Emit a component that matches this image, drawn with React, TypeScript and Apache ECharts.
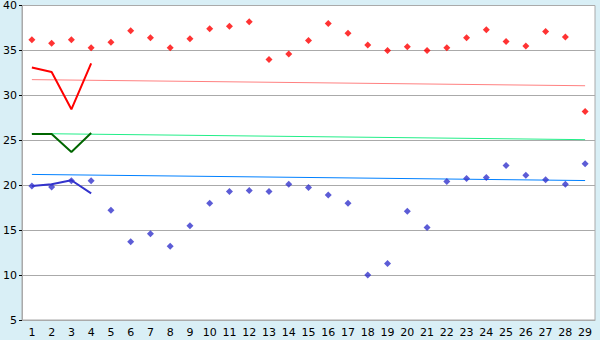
import React, { useEffect, useRef } from "react";
import * as echarts from "echarts";

const categories = Array.from({ length: 29 }, (_, i) => String(i + 1));

const redPoints = [
  36.2, 35.8, 36.2, 35.3, 35.9, 37.2, 36.4, 35.3, 36.3, 37.4,
  37.7, 38.2, 34.0, 34.6, 36.1, 38.0, 36.9, 35.6, 35.0, 35.4,
  35.0, 35.3, 36.4, 37.3, 36.0, 35.5, 37.1, 36.5, 28.2,
];

const bluePoints = [
  19.9, 19.8, 20.5, 20.5, 17.2, 13.7, 14.6, 13.2, 15.5, 18.0,
  19.3, 19.4, 19.3, 20.1, 19.75, 18.9, 18.0, 10.0, 11.3, 17.1,
  15.3, 20.4, 20.75, 20.85, 22.2, 21.1, 20.6, 20.1, 22.4,
];

const redLine = [33.1, 32.6, 28.45, 33.55];
const greenLine = [25.7, 25.7, 23.7, 25.8];
const blueLine = [19.9, 20.1, 20.55, 19.1];

// trend lines: start (category 1) and end (category 29)
const redTrend = [31.75, 31.07];
const greenTrend = [25.75, 25.07];
const blueTrend = [21.2, 20.52];

const yTicks = { min: 5, max: 40, interval: 5 };

function trendData(pair: number[]) {
  return categories.map((_, i) =>
    i === 0 ? pair[0] : i === categories.length - 1 ? pair[1] : null
  );
}

export default function App() {
  const ref = useRef<HTMLDivElement>(null);
  useEffect(() => {
    document.body.style.margin = "0";
    const chart = echarts.init(ref.current!, null, { renderer: "svg" });
    const font = { fontFamily: "DejaVu Sans", fontSize: 11, color: "#000" };
    chart.setOption({
      animation: false,
      backgroundColor: "#d9eff6",
      grid: {
        left: 20,
        right: 5,
        top: 5,
        bottom: 20,
        show: true,
        backgroundColor: "#ffffff",
        borderColor: "#aaaaaa",
        borderWidth: 1,
      },
      xAxis: {
        type: "category",
        data: categories,
        boundaryGap: true,
        axisLine: { lineStyle: { color: "#aaaaaa" } },
        axisTick: { alignWithLabel: true, length: 5, lineStyle: { color: "#000" } },
        axisLabel: { ...font, margin: 7, interval: 0 },
        splitLine: { show: false },
      },
      yAxis: {
        type: "value",
        min: yTicks.min,
        max: yTicks.max,
        interval: yTicks.interval,
        axisLine: { show: true, lineStyle: { color: "#aaaaaa" } },
        axisTick: { show: true, length: 3, lineStyle: { color: "#000" } },
        axisLabel: { ...font, margin: 5 },
        splitLine: { lineStyle: { color: "#aaaaaa" } },
      },
      series: [
        {
          type: "line",
          data: trendData(redTrend),
          connectNulls: true,
          symbol: "none",
          lineStyle: { color: "#ff8080", width: 1 },
          z: 2,
        },
        {
          type: "line",
          data: trendData(greenTrend),
          connectNulls: true,
          symbol: "none",
          lineStyle: { color: "#22ee88", width: 1 },
          z: 2,
        },
        {
          type: "line",
          data: trendData(blueTrend),
          connectNulls: true,
          symbol: "none",
          lineStyle: { color: "#0080ff", width: 1 },
          z: 2,
        },
        {
          type: "line",
          data: redLine,
          symbol: "none",
          lineStyle: { color: "#ff0000", width: 2 },
          z: 3,
        },
        {
          type: "line",
          data: greenLine,
          symbol: "none",
          lineStyle: { color: "#006600", width: 2 },
          z: 3,
        },
        {
          type: "line",
          data: blueLine,
          symbol: "none",
          lineStyle: { color: "#3333cc", width: 2 },
          z: 3,
        },
        {
          type: "scatter",
          data: redPoints,
          symbol: "diamond",
          symbolSize: 7,
          itemStyle: { color: "#ff0000" },
          z: 4,
        },
        {
          type: "scatter",
          data: bluePoints,
          symbol: "diamond",
          symbolSize: 7,
          itemStyle: { color: "#3333cc" },
          z: 4,
        },
      ],
    });
    return () => chart.dispose();
  }, []);
  return <div ref={ref} style={{ width: 600, height: 340 }} />;
}
